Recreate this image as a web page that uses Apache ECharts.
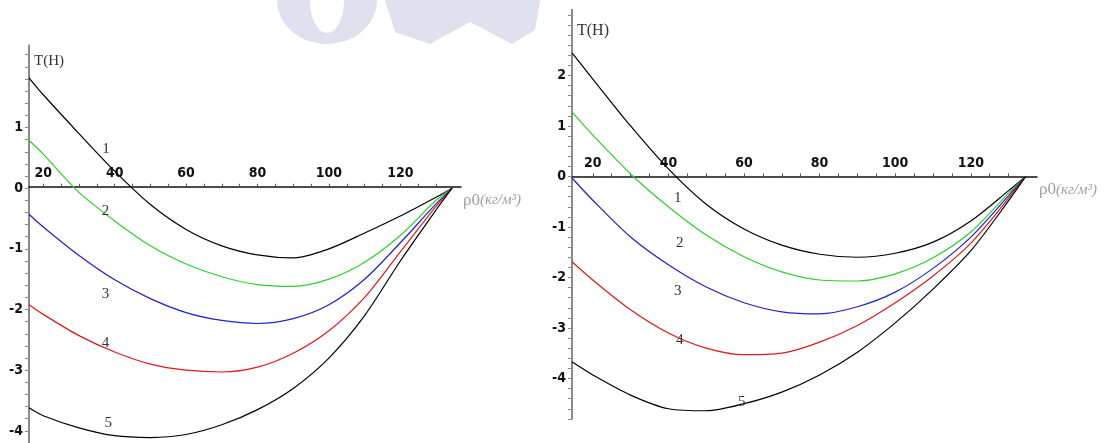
<!DOCTYPE html>
<html><head><meta charset="utf-8">
<script src="https://cdn.jsdelivr.net/npm/echarts@6/dist/echarts.min.js"></script>
<style>html,body{margin:0;padding:0;background:#fff}#c{width:1105px;height:443px}</style>
</head><body><div id="c"></div>
<script>
// ---- data ----
const rhoLeft  = [16, 20, 30, 40, 50, 60, 70, 80, 90, 100, 110, 120, 130, 134.5];
const left1 = [1.82, 1.54, 0.9, 0.28, -0.27, -0.68, -0.95, -1.1, -1.15, -1.0, -0.74, -0.46, -0.15, 0];
const left2 = [0.79, 0.56, -0.07, -0.54, -0.95, -1.25, -1.46, -1.59, -1.62, -1.5, -1.22, -0.78, -0.2, 0];
const left3 = [-0.43, -0.64, -1.11, -1.51, -1.82, -2.05, -2.18, -2.23, -2.15, -1.92, -1.5, -0.9, -0.26, 0];
const left4 = [-1.92, -2.08, -2.43, -2.7, -2.9, -3.0, -3.03, -2.95, -2.72, -2.35, -1.8, -1.05, -0.3, 0];
const left5 = [-3.62, -3.75, -3.95, -4.08, -4.11, -4.06, -3.9, -3.65, -3.3, -2.8, -2.1, -1.2, -0.36, 0];

const rhoRight = [14.5, 20, 30, 40, 50, 60, 70, 80, 90, 100, 110, 120, 130, 134.5];
const right1 = [2.45, 1.93, 1.0, 0.15, -0.55, -1.04, -1.36, -1.54, -1.6, -1.52, -1.3, -0.88, -0.28, 0];
const right2 = [1.28, 0.82, 0.05, -0.6, -1.16, -1.59, -1.89, -2.05, -2.07, -1.93, -1.61, -1.1, -0.33, 0];
const right3 = [-0.03, -0.47, -1.2, -1.75, -2.19, -2.5, -2.68, -2.72, -2.58, -2.29, -1.82, -1.2, -0.38, 0];
const right4 = [-1.69, -2.05, -2.64, -3.1, -3.4, -3.53, -3.5, -3.28, -2.95, -2.5, -1.97, -1.32, -0.43, 0];
const right5 = [-3.67, -3.93, -4.33, -4.6, -4.64, -4.5, -4.27, -3.93, -3.48, -2.9, -2.23, -1.47, -0.48, 0];

const curveNames = ['1', '2', '3', '4', '5'];
const labelPosLeft  = [[37.6, 0.64], [37.4, -0.38], [37.4, -1.74], [37.4, -2.56], [38.2, -3.87]];
const labelPosRight = [[42.5, -0.43], [43, -1.32], [42.5, -2.27], [43, -3.24], [59.4, -4.46]];

const xTickLabels = [20, 40, 60, 80, 100, 120];
const yTickLabelsLeft = [-4, -3, -2, -1, 0, 1];
const yTickLabelsRight = [-4, -3, -2, -1, 0, 1, 2];
const yAxisName = 'T(H)';
const xAxisNameMain = 'ρ0';
const xAxisNameUnit = '(кг/м³)';

// ---- styling ----
const colors = ['#000000', '#2ecf2e', '#2020cc', '#dd1a1a', '#000000'];
const tickFont = "'Liberation Sans Narrow','DejaVu Sans Condensed','Liberation Sans',sans-serif";
const serif = "'Liberation Serif','DejaVu Serif',serif";

const gridsDef = [
  { left: 29, top: 45.6, width: 432, height: 399.6, xmin: 16, xmax: 137, ymin: -4.2, ymax: 2.35,
    yLabels: yTickLabelsLeft, nameGap: -23, nameSize: 15, xnameSizes: [17, 15] },
  { left: 572, top: 9.85, width: 465, height: 409, xmin: 14.5, xmax: 137.5, ymin: -4.8, ymax: 3.3,
    yLabels: yTickLabelsRight, nameGap: -29, nameSize: 16, xnameSizes: [17, 15] }
];

function range(a, b, s) { const r = []; for (let v = a; v <= b + 1e-9; v += s) r.push(Math.round(v * 100) / 100); return r; }

function makeX(gi) {
  const g = gridsDef[gi];
  const zeroOffset = -(0 - g.ymin) / (g.ymax - g.ymin) * g.height;
  return {
    type: 'value', gridIndex: gi, min: g.xmin, max: g.xmax, position: 'bottom', offset: zeroOffset,
    axisLine: { onZero: false, lineStyle: { color: '#111', width: 1.5 } },
    axisTick: { show: true, inside: true, length: 3, customValues: range(20, 130, 5), lineStyle: { color: '#555' } },
    axisLabel: { inside: true, customValues: xTickLabels, margin: 6, color: '#111',
      fontFamily: tickFont, fontWeight: 'bold', fontSize: 14 },
    splitLine: { show: false },
    name: '{a|' + xAxisNameMain + '}{b|' + xAxisNameUnit + '}', nameLocation: 'end', nameGap: 2,
    nameTextStyle: { align: 'left', verticalAlign: 'top', padding: [5, 0, 0, 0],
      rich: {
        a: { color: '#a0a0a0', fontFamily: serif, fontSize: g.xnameSizes[0] },
        b: { color: '#a0a0a0', fontFamily: serif, fontStyle: 'italic', fontSize: g.xnameSizes[1] }
      } }
  };
}
function makeY(gi) {
  const g = gridsDef[gi];
  return {
    type: 'value', gridIndex: gi, min: g.ymin, max: g.ymax,
    axisLine: { onZero: false, lineStyle: { color: '#8a8a8a', width: 2 } },
    axisTick: { show: true, length: 4, customValues: range(Math.ceil(g.ymin * 5) / 5, g.ymax, 0.2), lineStyle: { color: '#888' } },
    axisLabel: { customValues: g.yLabels, margin: 6, color: '#111',
      fontFamily: tickFont, fontWeight: 'bold', fontSize: 14 },
    splitLine: { show: false },
    name: yAxisName, nameLocation: 'end', nameGap: g.nameGap,
    nameTextStyle: { color: '#333', fontFamily: serif, fontSize: g.nameSize, align: 'left', padding: [0, 0, 0, 5] }
  };
}

function curveSeries(gi, rho, vals, idx, lp) {
  return {
    type: 'line', xAxisIndex: gi, yAxisIndex: gi, smooth: 0.3, showSymbol: false,
    lineStyle: { color: colors[idx], width: 1.2 },
    data: rho.map((r, i) => [r, vals[i]]),
    markPoint: {
      symbol: 'circle', symbolSize: 1, silent: true,
      itemStyle: { color: 'rgba(0,0,0,0)' },
      label: { show: true, position: 'inside', formatter: curveNames[idx], color: '#333', fontFamily: serif, fontSize: 15 },
      data: [{ coord: lp[idx] }]
    },
    z: 3
  };
}

const leftVals = [left1, left2, left3, left4, left5];
const rightVals = [right1, right2, right3, right4, right5];

const series = [];
leftVals.forEach((v, i) => series.push(curveSeries(0, rhoLeft, v, i, labelPosLeft)));
rightVals.forEach((v, i) => series.push(curveSeries(1, rhoRight, v, i, labelPosRight)));

const wm = '#dfe2ee';
const chart = echarts.init(document.getElementById('c'), null, { renderer: 'canvas' });
chart.setOption({
  animation: false,
  backgroundColor: '#fff',
  graphic: [
    { type: 'ellipse', shape: { cx: 327, cy: 0, rx: 50, ry: 44 }, style: { fill: wm }, z: -2 },
    { type: 'ellipse', shape: { cx: 327, cy: 0, rx: 17, ry: 33 }, style: { fill: '#fff' }, z: -1 },
    { type: 'polygon', shape: { points: [[385, 0], [540, 0], [535, 30], [512, 44], [470, 22], [430, 44], [395, 32]] }, style: { fill: wm }, z: -2 }
  ],
  grid: gridsDef.map(g => ({ left: g.left, top: g.top, width: g.width, height: g.height, containLabel: false })),
  xAxis: [makeX(0), makeX(1)],
  yAxis: [makeY(0), makeY(1)],
  series: series
});
</script></body></html>
